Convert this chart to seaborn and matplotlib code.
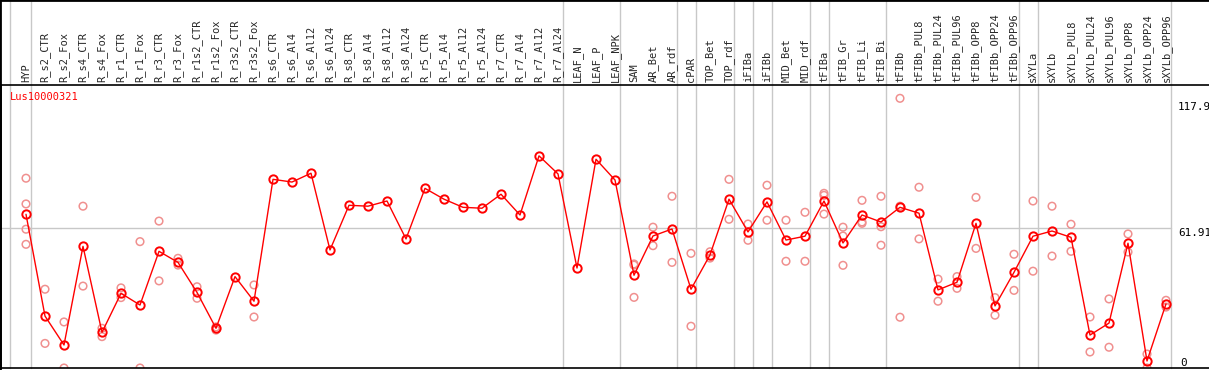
import matplotlib
matplotlib.use("Agg")
import matplotlib.pyplot as plt
import seaborn as sns
import pandas as pd
from matplotlib.lines import Line2D

categories = ["HYP", "R_s2_CTR", "R_s2_Fox", "R_s4_CTR", "R_s4_Fox", "R_r1_CTR", "R_r1_Fox",
              "R_r3_CTR", "R_r3_Fox", "R_r1s2_CTR", "R_r1s2_Fox", "R_r3s2_CTR", "R_r3s2_Fox",
              "R_s6_CTR", "R_s6_Al4", "R_s6_Al12", "R_s6_Al24", "R_s8_CTR", "R_s8_Al4", "R_s8_Al12",
              "R_s8_Al24", "R_r5_CTR", "R_r5_Al4", "R_r5_Al12", "R_r5_Al24", "R_r7_CTR", "R_r7_Al4",
              "R_r7_Al12", "R_r7_Al24", "LEAF_N", "LEAF_P", "LEAF_NPK", "SAM", "AR_Bet", "AR_rdf",
              "cPAR", "TOP_Bet", "TOP_rdf", "iFIBa", "iFIBb", "MID_Bet", "MID_rdf", "tFIBa",
              "tFIB_Gr", "tFIB_Li", "tFIB_Bi", "tFIBb", "tFIBb_PUL8", "tFIBb_PUL24", "tFIBb_PUL96",
              "tFIBb_OPP8", "tFIBb_OPP24", "tFIBb_OPP96", "sXYLa", "sXYLb", "sXYLb_PUL8",
              "sXYLb_PUL24", "sXYLb_PUL96", "sXYLb_OPP8", "sXYLb_OPP24", "sXYLb_OPP96"]

mean_values = [68.1, 23.0, 10.2, 53.9, 15.8, 33.1, 27.9, 51.7, 46.8, 33.5, 17.6, 40.5, 29.6,
               83.6, 82.4, 86.3, 52.3, 72.1, 71.7, 74.0, 57.2, 79.6, 74.8, 71.2, 70.8, 77.0, 67.8,
               94.0, 86.0, 44.3, 92.5, 83.3, 41.1, 58.5, 61.6, 34.9, 50.1, 74.8, 60.3, 73.6, 56.7,
               58.4, 74.0, 55.4, 67.8, 64.7, 71.2, 68.6, 34.6, 38.0, 64.1, 27.5, 42.4, 58.4, 60.7,
               57.9, 14.6, 19.9, 55.3, 3.1, 28.4]

replicates = [[84.1, 72.7, 61.5, 54.8], [34.9, 10.9], [20.4, 0.0], [71.7, 36.3], [17.6, 13.9],
              [35.5, 31.2], [56.0, 0.0], [65.1, 38.6], [48.6, 45.6], [36.0, 30.9], [18.2, 16.8],
              [], [36.8, 22.6],
              [], [], [], [], [], [], [], [], [], [], [], [], [], [], [], [], [], [], [],
              [46.1, 45.6, 31.3], [62.4, 54.2], [76.1, 46.8], [50.8, 18.5], [51.5, 48.7],
              [83.6, 65.9], [63.8, 56.6], [81.0, 65.5], [65.5, 47.3], [69.0, 47.3],
              [77.4, 76.5, 68.2], [62.4, 58.5, 45.5], [74.3, 64.7, 64.1], [76.1, 62.6, 54.4],
              [119.5, 22.5, 71.7], [80.1, 57.2], [39.4, 29.6], [40.5, 35.3], [75.6, 53.0],
              [31.2, 23.4], [50.4, 34.4], [74.0, 42.9], [71.7, 49.6], [63.7, 51.7], [22.6, 7.1],
              [30.6, 9.2], [59.4, 51.4], [6.2, 0.0], [30.0, 27.0]]

group_last = ["HYP", "R_r7_Al24", "LEAF_NPK", "AR_rdf", "cPAR", "TOP_rdf", "iFIBa", "iFIBb",
              "MID_rdf", "tFIBa", "tFIB_Bi", "tFIBb_OPP96", "sXYLa", "sXYLb_OPP96"]

gene_name = "Lus10000321"
scale_labels = ["117.9", "61.91", "0"]
scale_values = [117.9, 61.91, 0.0]

# ---- build frames
main_df = pd.DataFrame({"pos": range(len(categories)), "cat": categories, "value": mean_values})
rep_rows = []
for i, reps in enumerate(replicates):
    for r in reps:
        rep_rows.append({"pos": i, "cat": categories[i], "value": r})
rep_df = pd.DataFrame(rep_rows)

sns.set_style("white")
plt.rcParams["font.family"] = ["DejaVu Sans Mono"]

W, H = 1209, 370
fig = plt.figure(figsize=(W / 100, H / 100), dpi=100)
ax_left, ax_right, ax_top, ax_bot = 1, 1209, 85, 368
ax = fig.add_axes([ax_left / W, (H - ax_bot) / H, (ax_right - ax_left) / W, (ax_bot - ax_top) / H])

step = 19.0
x0 = 26.0
ax.set_xlim((ax_left - x0) / step, (ax_right - x0) / step)
ymax = 125.4
ax.set_ylim(0, ymax)

grid_col = "#c8c8c8"
# vertical separators spanning the whole figure height
ext = (ax_bot - 0) / (ax_bot - ax_top)
sep_pos = [-0.84] + [categories.index(c) + 0.25 for c in group_last]
for sx in sep_pos:
    ax.axvline(sx, ymin=0, ymax=ext, color=grid_col, lw=1.0, clip_on=False, zorder=0)
# horizontal reference line
ax.plot([ax.get_xlim()[0], categories.index("sXYLb_OPP96") + 0.25], [scale_values[1]] * 2,
        color=grid_col, lw=1.0, zorder=0)

sns.scatterplot(data=rep_df, x="pos", y="value", ax=ax, marker="o", s=30,
                facecolors="none", edgecolor="#f0908f", linewidth=1.1, zorder=2, legend=False)
sns.lineplot(data=main_df, x="pos", y="value", ax=ax, color="#ff0000", lw=1.0,
             marker="o", markersize=6, markerfacecolor="none", markeredgecolor="#ff0000",
             markeredgewidth=1.4, zorder=3, legend=False, estimator=None)

ax.set_xticks(range(len(categories)))
ax.set_xticklabels(categories, rotation=90, fontsize=7.5, family="DejaVu Sans Mono")
ax.tick_params(axis="x", top=True, labeltop=True, bottom=False, labelbottom=False,
               length=0, pad=2)
ax.set_yticks([])
ax.set_xlabel("")
ax.set_ylabel("")

for s in ["top", "bottom", "left"]:
    ax.spines[s].set_visible(True)
    ax.spines[s].set_color("black")
    ax.spines[s].set_linewidth(1.2)
ax.spines["right"].set_visible(False)

# figure frame top & left
fig.add_artist(Line2D([0, 0], [0, 1], transform=fig.transFigure, color="black", lw=2))
fig.add_artist(Line2D([0, 1], [1, 1], transform=fig.transFigure, color="black", lw=2))

# scale labels at right
lab_x = (1178 - x0) / step
ax.text(lab_x, scale_values[0], scale_labels[0], ha="left", va="top", fontsize=7.9, color="black")
ax.text(lab_x, scale_values[1], scale_labels[1], ha="left", va="top", fontsize=7.9, color="black")
ax.text(lab_x + 0.1, scale_values[2], scale_labels[2], ha="left", va="bottom", fontsize=7.9, color="black")

ax.text((10 - ax_left) / (ax_right - ax_left), (ax_bot - 97) / (ax_bot - ax_top), gene_name,
        transform=ax.transAxes, ha="left", va="center", fontsize=7.5, color="#ff0000")

fig.savefig("out.png", dpi=100)
